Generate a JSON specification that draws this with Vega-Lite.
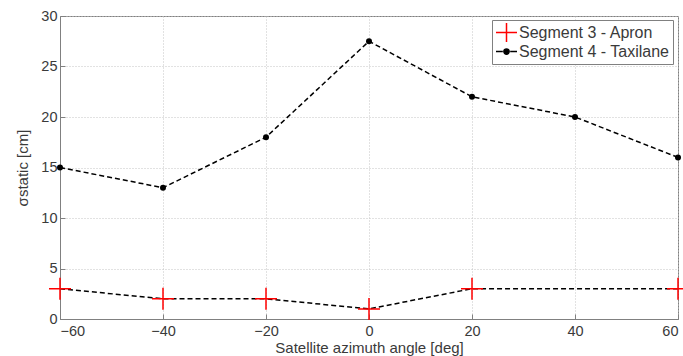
{
  "$schema": "https://vega.github.io/schema/vega-lite/v6.json",
  "width": 618,
  "height": 303,
  "autosize": "none",
  "padding": {"left": 60, "top": 16, "right": 5, "bottom": 37},
  "background": "white",
  "config": {
    "font": "Liberation Sans",
    "view": {"stroke": "#808080", "strokeWidth": 1},
    "axis": {
      "domainColor": "#808080",
      "tickColor": "#808080",
      "tickSize": -5,
      "labelColor": "#3a3a3a",
      "labelFontSize": 14.5,
      "titleColor": "#3a3a3a",
      "titleFontSize": 15,
      "titleFontWeight": "normal",
      "gridColor": "#c4c4c4",
      "gridDash": [1, 2],
      "gridWidth": 1
    },
    "legend": {
      "orient": "none",
      "legendX": 432,
      "legendY": 4,
      "strokeColor": "#808080",
      "fillColor": "white",
      "padding": 3,
      "labelFontSize": 16,
      "labelColor": "#3a3a3a",
      "labelLimit": 400,
      "rowPadding": 0,
      "clipHeight": 19,
      "labelOffset": 1,
      "symbolOpacity": 1,
      "symbolStrokeWidth": 1.5
    }
  },
  "data": {
    "values": [
      {"angle": -60, "sigma": 3, "series": "Segment 3 - Apron"},
      {"angle": -40, "sigma": 2, "series": "Segment 3 - Apron"},
      {"angle": -20, "sigma": 2, "series": "Segment 3 - Apron"},
      {"angle": 0, "sigma": 1, "series": "Segment 3 - Apron"},
      {"angle": 20, "sigma": 3, "series": "Segment 3 - Apron"},
      {"angle": 60, "sigma": 3, "series": "Segment 3 - Apron"},
      {"angle": -60, "sigma": 15, "series": "Segment 4 - Taxilane"},
      {"angle": -40, "sigma": 13, "series": "Segment 4 - Taxilane"},
      {"angle": -20, "sigma": 18, "series": "Segment 4 - Taxilane"},
      {"angle": 0, "sigma": 27.5, "series": "Segment 4 - Taxilane"},
      {"angle": 20, "sigma": 22, "series": "Segment 4 - Taxilane"},
      {"angle": 40, "sigma": 20, "series": "Segment 4 - Taxilane"},
      {"angle": 60, "sigma": 16, "series": "Segment 4 - Taxilane"}
    ]
  },
  "encoding": {
    "x": {
      "field": "angle",
      "type": "quantitative",
      "scale": {"domain": [-60, 60], "nice": false},
      "axis": {
        "values": [-60, -40, -20, 0, 20, 40, 60],
        "title": "Satellite azimuth angle [deg]",
        "labelPadding": 10,
        "titlePadding": 3,
        "grid": true
      }
    },
    "y": {
      "field": "sigma",
      "type": "quantitative",
      "scale": {"domain": [0, 30], "nice": false},
      "axis": {
        "values": [0, 5, 10, 15, 20, 25, 30],
        "title": "σstatic [cm]",
        "labelPadding": 8,
        "titlePadding": 10,
        "grid": true
      }
    }
  },
  "layer": [
    {
      "mark": {"type": "line", "color": "black", "strokeDash": [5, 3], "strokeWidth": 1.5},
      "encoding": {"detail": {"field": "series"}}
    },
    {
      "transform": [{"filter": "datum.series === 'Segment 3 - Apron'"}],
      "mark": {"type": "point", "shape": "M-1,0H1M0,-1V1", "size": 484, "stroke": "#ff0000", "strokeWidth": 1.5, "filled": false, "opacity": 1}
    },
    {
      "transform": [{"filter": "datum.series === 'Segment 4 - Taxilane'"}],
      "mark": {"type": "point", "shape": "circle", "size": 36, "fill": "#000000", "filled": true, "opacity": 1}
    },
    {
      "mark": {"type": "point", "filled": true, "strokeWidth": 1.5, "opacity": 0},
      "encoding": {
        "shape": {"field": "series", "type": "nominal", "scale": {"domain": ["Segment 3 - Apron", "Segment 4 - Taxilane"], "range": ["M-1,0H1M0,-1V1", "M-1,0H-0.35M0.35,0H1M-0.25,0A0.25,0.25 0 1,0 0.25,0A0.25,0.25 0 1,0 -0.25,0Z"]}, "title": null},
        "size": {"field": "series", "type": "nominal", "scale": {"domain": ["Segment 3 - Apron", "Segment 4 - Taxilane"], "range": [441, 441]}, "title": null},
        "stroke": {"field": "series", "type": "nominal", "scale": {"domain": ["Segment 3 - Apron", "Segment 4 - Taxilane"], "range": ["#ff0000", "#000000"]}, "title": null},
        "fill": {"field": "series", "type": "nominal", "scale": {"domain": ["Segment 3 - Apron", "Segment 4 - Taxilane"], "range": ["#ff0000", "#000000"]}, "title": null}
      }
    }
  ]
}
